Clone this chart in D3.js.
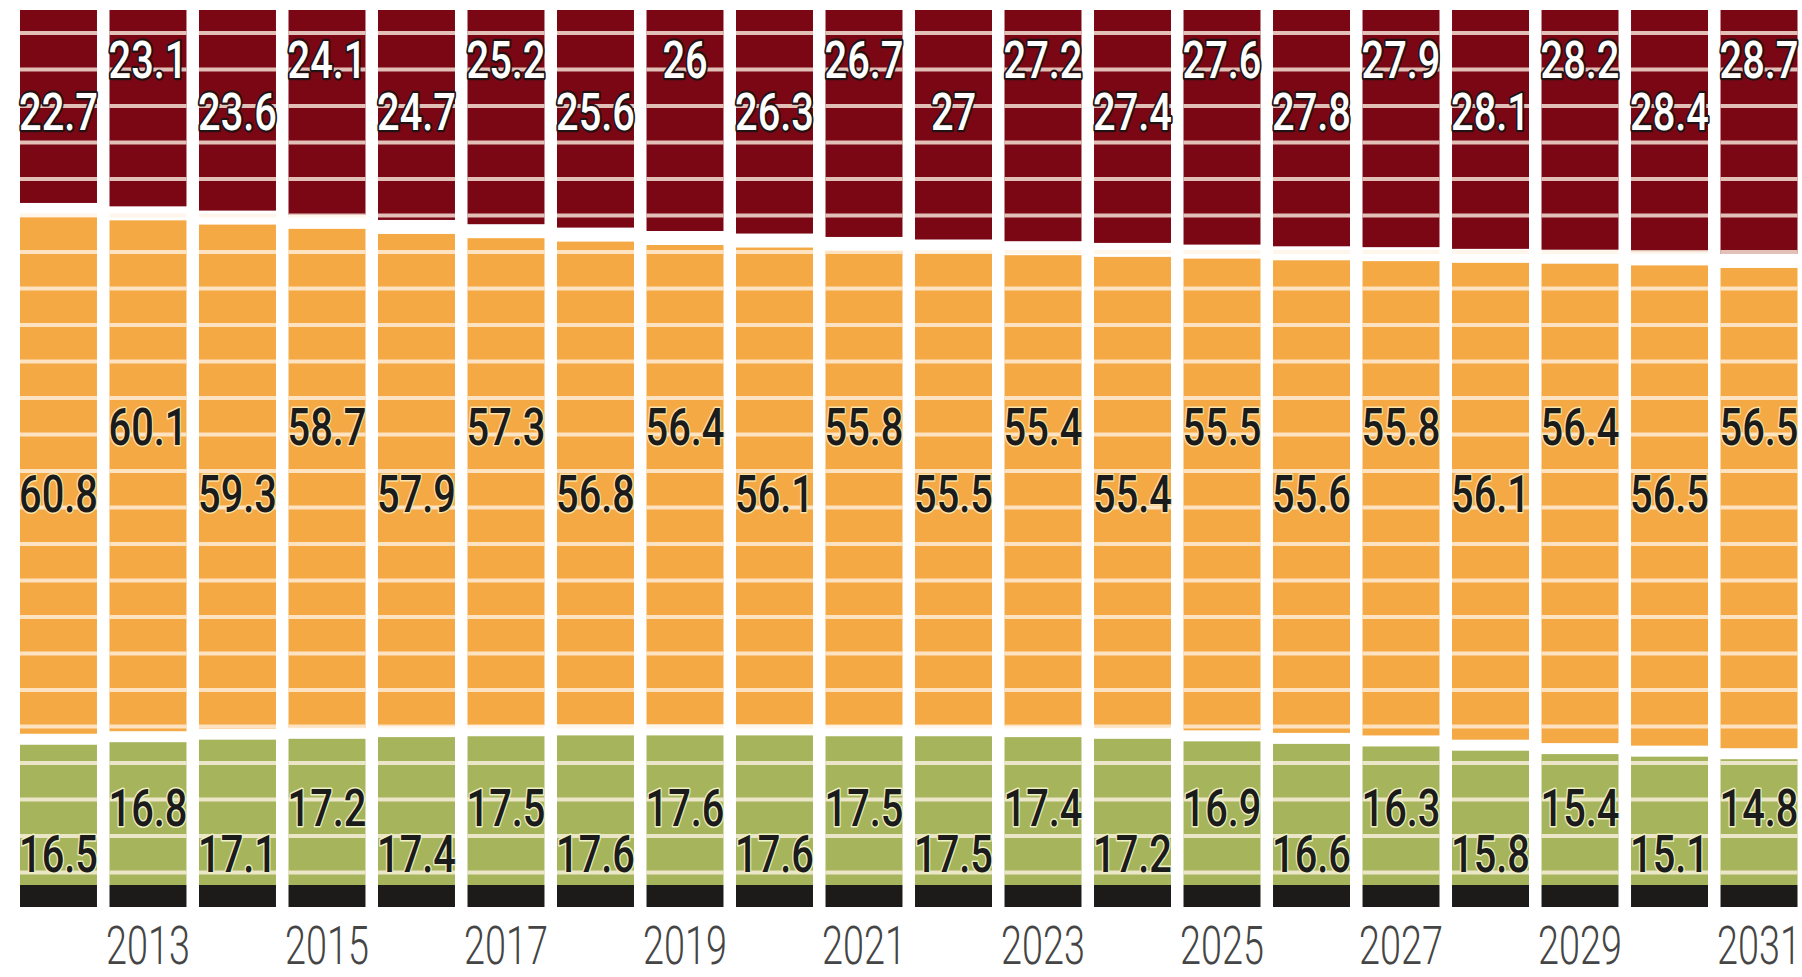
<!DOCTYPE html>
<html>
<head>
<meta charset="utf-8">
<script src="https://cdn.jsdelivr.net/npm/d3@7"></script>
<style>
  html, body { margin: 0; padding: 0; background: #ffffff; }
  svg { display: block; }
</style>
</head>
<body>
<svg id="chart" width="1802" height="977"></svg>
<script>
// ---- data ----
const years = ["2012","2013","2014","2015","2016","2017","2018","2019","2020","2021",
               "2022","2023","2024","2025","2026","2027","2028","2029","2030","2031"];
const topShare = [22.7,23.1,23.6,24.1,24.7,25.2,25.6,26,26.3,26.7,27,27.2,27.4,27.6,27.8,27.9,28.1,28.2,28.4,28.7];
const middleShare = [60.8,60.1,59.3,58.7,57.9,57.3,56.8,56.4,56.1,55.8,55.5,55.4,55.4,55.5,55.6,55.8,56.1,56.4,56.5,56.5];
const bottomShare = [16.5,16.8,17.1,17.2,17.4,17.5,17.6,17.6,17.6,17.5,17.5,17.4,17.2,16.9,16.6,16.3,15.8,15.4,15.1,14.8];
const yearTicks = ["2013","2015","2017","2019","2021","2023","2025","2027","2029","2031"];

const keys = ["top", "middle", "bottom"];
const rows = years.map((y, i) => ({ year: y, top: topShare[i], middle: middleShare[i], bottom: bottomShare[i] }));

// ---- layout ----
const W = 1802, H = 977;
const plotTop = 10, plotBottom = 885, blackH = 22;
const gaps = [0, 14, 25]; // cumulative gap before each series
const colors = { top: "#7b0714", middle: "#f5a944", bottom: "#a6b55b" };

const svg = d3.select("#chart");

const x = d3.scaleBand().domain(years).range([20, 1797.5]).paddingInner(0.14).paddingOuter(0);
const h = d3.scaleLinear().domain([0, 100]).range([0, plotBottom - plotTop - gaps[2]]);

const stacked = d3.stack().keys(keys)(rows);

// segments
stacked.forEach((layer, li) => {
  svg.append("g").selectAll("rect").data(layer).join("rect")
    .attr("x", d => x(d.data.year))
    .attr("width", x.bandwidth())
    .attr("y", d => plotTop + gaps[li] + h(d[0]))
    .attr("height", d => h(d[1]) - h(d[0]))
    .attr("fill", colors[layer.key]);
});

// black foot strip
svg.append("g").selectAll("rect").data(years).join("rect")
  .attr("x", d => x(d)).attr("width", x.bandwidth())
  .attr("y", plotBottom).attr("height", blackH)
  .attr("fill", "#1d1a1a");

// decorative horizontal stripes
const stripeYs = d3.range(33, plotBottom - 4, 36.5);
const stripeG = svg.append("g");
years.forEach(yr => {
  stripeG.selectAll(null).data(stripeYs).join("rect")
    .attr("x", x(yr)).attr("width", x.bandwidth())
    .attr("y", d => d - 2).attr("height", 4)
    .attr("fill", "#fff3e6").attr("opacity", 0.78);
});

// value labels
const labelSpec = {
  top:    { base: [130, 78], fill: "#ffffff", stroke: "#231214", sw: 4.5 },
  middle: { base: [512, 445], fill: "#1b1b1b", stroke: "#fbe2a8", sw: 3 },
  bottom: { base: [872, 826], fill: "#1b1b1b", stroke: "#eef0c4", sw: 3 }
};
const fmt = v => String(v);
keys.forEach(k => {
  const spec = labelSpec[k];
  const g = svg.append("g");
  rows.forEach((r, i) => {
    g.append("text")
      .attr("transform", `translate(${x(r.year) + x.bandwidth() / 2},${spec.base[i % 2]}) scale(0.78,1)`)
      .attr("text-anchor", "middle")
      .attr("font-family", "Roboto, 'DejaVu Sans', sans-serif")
      .attr("font-weight", 500)
      .attr("font-size", 51)
      .attr("fill", spec.fill)
      .attr("stroke", spec.stroke)
      .attr("stroke-width", spec.sw)
      .attr("stroke-linejoin", "round")
      .attr("paint-order", "stroke")
      .text(fmt(r[k]));
  });
});

// x axis (odd years)
const axis = d3.axisBottom(x).tickValues(yearTicks).tickSize(0).tickPadding(0);
const ax = svg.append("g").attr("transform", `translate(0,${H - 13})`).call(axis);
ax.select(".domain").remove();
ax.selectAll("text")
  .attr("y", 0).attr("dy", 0)
  .attr("transform", "scale(0.7,1)")
  .attr("font-family", "Roboto, 'DejaVu Sans', sans-serif")
  .attr("font-weight", 300)
  .attr("font-size", 54)
  .attr("fill", "#454545");
</script>
</body>
</html>
